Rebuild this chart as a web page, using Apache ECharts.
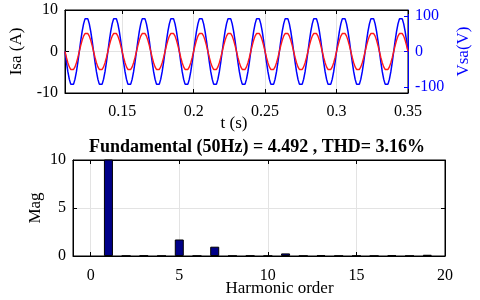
<!DOCTYPE html>
<html>
<head>
<meta charset="utf-8">
<script src="https://cdn.jsdelivr.net/npm/echarts@6/dist/echarts.min.js"></script>
<style>html,body{margin:0;padding:0;background:#fff}#c{width:480px;height:300px}</style>
</head>
<body>
<div id="c"></div>
<script>
// ---- data ----
const timeStart = 0.110;   // first sample time (s)
const timeStep = 0.001;    // sampling step (s)
const currentIsa = [
0,-1.42,-2.70,-3.70,-4.32,-4.52,-4.32,-3.70,-2.70,-1.42,0,1.42,2.70,3.70,4.32,4.52,4.32,3.70,2.70,1.42,
0,-1.42,-2.70,-3.70,-4.32,-4.52,-4.32,-3.70,-2.70,-1.42,0,1.42,2.70,3.70,4.32,4.52,4.32,3.70,2.70,1.42,
0,-1.42,-2.70,-3.70,-4.32,-4.52,-4.32,-3.70,-2.70,-1.42,0,1.42,2.70,3.70,4.32,4.52,4.32,3.70,2.70,1.42,
0,-1.42,-2.70,-3.70,-4.32,-4.52,-4.32,-3.70,-2.70,-1.42,0,1.42,2.70,3.70,4.32,4.52,4.32,3.70,2.70,1.42,
0,-1.42,-2.70,-3.70,-4.32,-4.52,-4.32,-3.70,-2.70,-1.42,0,1.42,2.70,3.70,4.32,4.52,4.32,3.70,2.70,1.42,
0,-1.42,-2.70,-3.70,-4.32,-4.52,-4.32,-3.70,-2.70,-1.42,0,1.42,2.70,3.70,4.32,4.52,4.32,3.70,2.70,1.42,
0,-1.42,-2.70,-3.70,-4.32,-4.52,-4.32,-3.70,-2.70,-1.42,0,1.42,2.70,3.70,4.32,4.52,4.32,3.70,2.70,1.42,
0,-1.42,-2.70,-3.70,-4.32,-4.52,-4.32,-3.70,-2.70,-1.42,0,1.42,2.70,3.70,4.32,4.52,4.32,3.70,2.70,1.42,
0,-1.42,-2.70,-3.70,-4.32,-4.52,-4.32,-3.70,-2.70,-1.42,0,1.42,2.70,3.70,4.32,4.52,4.32,3.70,2.70,1.42,
0,-1.42,-2.70,-3.70,-4.32,-4.52,-4.32,-3.70,-2.70,-1.42,0,1.42,2.70,3.70,4.32,4.52,4.32,3.70,2.70,1.42,
0,-1.42,-2.70,-3.70,-4.32,-4.52,-4.32,-3.70,-2.70,-1.42,0,1.42,2.70,3.70,4.32,4.52,4.32,3.70,2.70,1.42,
0,-1.42,-2.70,-3.70,-4.32,-4.52,-4.32,-3.70,-2.70,-1.42,0,1.42,2.70,3.70,4.32,4.52,4.32,3.70,2.70,1.42,
0];
const voltageVsa = [
0,-30,-57,-78,-92,-97,-92,-78,-57,-30,0,30,57,78,92,97,92,78,57,30,
0,-30,-57,-78,-92,-97,-92,-78,-57,-30,0,30,57,78,92,97,92,78,57,30,
0,-30,-57,-78,-92,-97,-92,-78,-57,-30,0,30,57,78,92,97,92,78,57,30,
0,-30,-57,-78,-92,-97,-92,-78,-57,-30,0,30,57,78,92,97,92,78,57,30,
0,-30,-57,-78,-92,-97,-92,-78,-57,-30,0,30,57,78,92,97,92,78,57,30,
0,-30,-57,-78,-92,-97,-92,-78,-57,-30,0,30,57,78,92,97,92,78,57,30,
0,-30,-57,-78,-92,-97,-92,-78,-57,-30,0,30,57,78,92,97,92,78,57,30,
0,-30,-57,-78,-92,-97,-92,-78,-57,-30,0,30,57,78,92,97,92,78,57,30,
0,-30,-57,-78,-92,-97,-92,-78,-57,-30,0,30,57,78,92,97,92,78,57,30,
0,-30,-57,-78,-92,-97,-92,-78,-57,-30,0,30,57,78,92,97,92,78,57,30,
0,-30,-57,-78,-92,-97,-92,-78,-57,-30,0,30,57,78,92,97,92,78,57,30,
0,-30,-57,-78,-92,-97,-92,-78,-57,-30,0,30,57,78,92,97,92,78,57,30,
0];
const harmonicOrder = [1,2,3,4,5,6,7,8,9,10,11,12,13,14,15,16,17,18,19];
const harmonicMag   = [100,0.02,0.05,0.02,1.72,0.02,0.97,0.02,0.04,0.02,0.27,0.02,0.10,0.02,0.03,0.02,0.08,0.02,0.13];
const timeTicks = [0.15,0.2,0.25,0.3,0.35];
const vsaTicks = [-100,0,100];
const harmonicTicks = [0,5,10,15,20];
const titleText = 'Fundamental (50Hz) = 4.492 , THD= 3.16%';

// ---- chart ----
const FONT = 'Liberation Serif';
const times = currentIsa.map((_, i) => +(timeStart + i * timeStep).toFixed(4));
const gridLine = { show: true, lineStyle: { color: '#e3e3e3', width: 1 } };
const lab = (extra) => Object.assign({ fontFamily: FONT, fontSize: 16, color: '#000' }, extra);
const nameStyle = (extra) => Object.assign({ fontFamily: FONT, fontSize: 17, color: '#000' }, extra);
const mirrorX = (gridIndex, min, max, ticks) => ({
  type: 'value', gridIndex, position: 'top', min, max,
  axisLine: { show: true, onZero: false, lineStyle: { color: '#000' } },
  axisTick: { inside: true, length: 4, customValues: ticks, lineStyle: { color: '#000' } },
  axisLabel: { show: false }, splitLine: { show: false }
});

const chart = echarts.init(document.getElementById('c'), null, { renderer: 'canvas' });
chart.setOption({
  animation: false,
  backgroundColor: '#fff',
  grid: [
    { left: 59, top: 10, width: 351, height: 83, show: true, borderColor: '#000', borderWidth: 1, backgroundColor: '#fff' },
    { left: 73, top: 160, width: 372, height: 96, show: true, borderColor: '#000', borderWidth: 1, backgroundColor: '#fff' }
  ],
  graphic: [{
    type: 'text', x: 257, y: 147.5,
    style: { text: titleText, fontFamily: FONT, fontSize: 18, fontWeight: 'bold', fill: '#000', align: 'center', verticalAlign: 'middle' }
  }],
  xAxis: [
    {
      type: 'value', gridIndex: 0, min: 0.11, max: 0.35,
      axisLine: { onZero: false, lineStyle: { color: '#000' } },
      axisTick: { inside: true, length: 4, customValues: timeTicks, lineStyle: { color: '#000' } },
      axisLabel: lab({ customValues: timeTicks, margin: 11, formatter: v => String(+v.toFixed(2)) }),
      splitLine: gridLine,
      name: 't (s)', nameLocation: 'middle', nameGap: 22.5, nameMoveOverlap: false,
      nameTextStyle: nameStyle({ padding: [0, 5, 0, 0] })
    },
    {
      type: 'value', gridIndex: 1, min: -1, max: 20,
      axisLine: { onZero: false, lineStyle: { color: '#000' } },
      axisTick: { inside: true, length: 4, customValues: harmonicTicks, lineStyle: { color: '#000' } },
      axisLabel: lab({ customValues: harmonicTicks, margin: 12 }),
      splitLine: gridLine,
      name: 'Harmonic order', nameLocation: 'middle', nameGap: 24, nameMoveOverlap: false,
      nameTextStyle: nameStyle({ padding: [0, 0, 0, 41] })
    },
    mirrorX(0, 0.11, 0.35, timeTicks),
    mirrorX(1, -1, 20, harmonicTicks)
  ],
  yAxis: [
    {
      type: 'value', gridIndex: 0, position: 'left', min: -10, max: 10, interval: 10,
      axisLine: { show: true, onZero: false, lineStyle: { color: '#000' } },
      axisTick: { inside: true, length: 4, lineStyle: { color: '#000' } },
      axisLabel: lab({ margin: 7 }),
      splitLine: gridLine,
      name: 'Isa (A)', nameLocation: 'middle', nameRotate: 90, nameGap: 40, nameMoveOverlap: false,
      nameTextStyle: nameStyle()
    },
    {
      type: 'value', gridIndex: 0, position: 'right', min: -117, max: 117,
      axisLine: { show: true, onZero: false, lineStyle: { color: '#0000ff' } },
      axisTick: { inside: true, length: 4, customValues: vsaTicks, lineStyle: { color: '#0000ff' } },
      axisLabel: lab({ customValues: vsaTicks, margin: 7, color: '#0000ff' }),
      splitLine: { show: false },
      name: 'Vsa(V)', nameLocation: 'middle', nameRotate: 90, nameGap: 47, nameMoveOverlap: false,
      nameTextStyle: nameStyle({ color: '#0000ff' })
    },
    {
      type: 'value', gridIndex: 1, position: 'left', min: 0, max: 10, interval: 5,
      axisLine: { show: true, onZero: false, lineStyle: { color: '#000' } },
      axisTick: { inside: true, length: 4, lineStyle: { color: '#000' } },
      axisLabel: lab({ margin: 7 }),
      splitLine: gridLine,
      name: 'Mag', nameLocation: 'middle', nameRotate: 90, nameGap: 29, nameMoveOverlap: false,
      nameTextStyle: nameStyle()
    },
    {
      type: 'value', gridIndex: 1, position: 'right', min: 0, max: 10, interval: 5,
      axisLine: { show: true, onZero: false, lineStyle: { color: '#000' } },
      axisTick: { inside: true, length: 4, lineStyle: { color: '#000' } },
      axisLabel: { show: false },
      splitLine: { show: false }
    }
  ],
  series: [
    {
      type: 'line', xAxisIndex: 0, yAxisIndex: 1, showSymbol: false, silent: true,
      data: times.map((t, i) => [t, voltageVsa[i]]),
      lineStyle: { color: '#0000ff', width: 1.5 }, itemStyle: { color: '#0000ff' }
    },
    {
      type: 'line', xAxisIndex: 0, yAxisIndex: 0, showSymbol: false, silent: true,
      data: times.map((t, i) => [t, currentIsa[i]]),
      lineStyle: { color: '#ff1a1a', width: 1.4 }, itemStyle: { color: '#ff1a1a' }
    },
    {
      type: 'bar', xAxisIndex: 1, yAxisIndex: 2, barWidth: 9, clip: true,
      data: harmonicOrder.map((h, i) => [h, harmonicMag[i]]),
      itemStyle: { color: '#000088', borderColor: '#000', borderWidth: 1 }
    }
  ]
});
</script>
</body>
</html>
